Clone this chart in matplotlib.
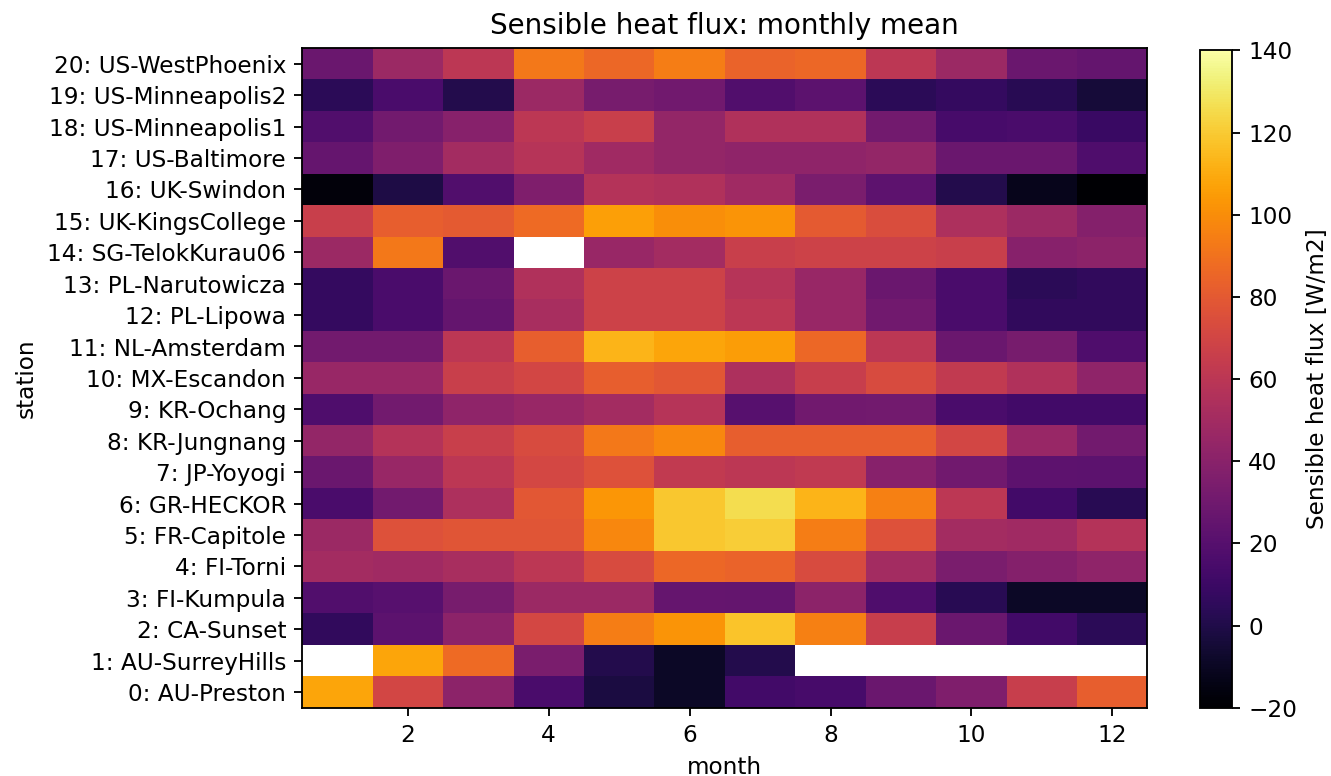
import matplotlib
matplotlib.use("Agg")
import matplotlib.pyplot as plt
import numpy as np

# estaciones (de 0 abajo a 20 arriba) y meses
estaciones = ["AU-Preston", "AU-SurreyHills", "CA-Sunset", "FI-Kumpula", "FI-Torni",
              "FR-Capitole", "GR-HECKOR", "JP-Yoyogi", "KR-Jungnang", "KR-Ochang",
              "MX-Escandon", "NL-Amsterdam", "PL-Lipowa", "PL-Narutowicza",
              "SG-TelokKurau06", "UK-KingsCollege", "UK-Swindon", "US-Baltimore",
              "US-Minneapolis1", "US-Minneapolis2", "US-WestPhoenix"]
meses = np.arange(1, 13)
nan = np.nan

# flujo de calor sensible medio mensual [W/m2], una fila por estacion
h_0 = [108, 70, 41, 15, -2, -9, 12, 14, 28, 36, 65, 82]
h_1 = [nan, 108, 87, 34, 1, -9, 1, nan, nan, nan, nan, nan]
h_2 = [6, 22, 41, 71, 94, 102, 118, 95, 65, 28, 12, 4]
h_3 = [18, 20, 33, 47, 47, 26, 25, 41, 17, 3, -9, -9]
h_4 = [50, 49, 52, 60, 73, 86, 84, 73, 50, 34, 38, 42]
h_5 = [47, 76, 78, 78, 98, 119, 121, 94, 76, 50, 49, 57]
h_6 = [15, 31, 54, 79, 103, 119, 126, 113, 95, 60, 12, 3]
h_7 = [28, 46, 60, 71, 76, 63, 60, 62, 39, 30, 23, 22]
h_8 = [44, 57, 66, 73, 92, 98, 82, 82, 82, 70, 46, 31]
h_9 = [17, 31, 42, 46, 50, 58, 20, 30, 31, 15, 12, 12]
h_10 = [46, 46, 66, 70, 82, 79, 54, 65, 73, 63, 55, 42]
h_11 = [31, 31, 60, 82, 113, 108, 105, 86, 60, 28, 33, 17]
h_12 = [7, 15, 25, 52, 68, 68, 60, 46, 30, 15, 6, 6]
h_13 = [7, 15, 28, 55, 68, 68, 58, 46, 28, 15, 4, 6]
h_14 = [47, 92, 18, nan, 46, 50, 66, 68, 68, 66, 39, 41]
h_15 = [66, 82, 80, 87, 106, 100, 102, 80, 74, 54, 47, 38]
h_16 = [-17, -1, 18, 36, 57, 55, 49, 34, 23, 1, -12, -20]
h_17 = [26, 36, 50, 58, 49, 44, 42, 42, 44, 28, 28, 17]
h_18 = [18, 31, 39, 60, 66, 44, 55, 55, 31, 14, 15, 9]
h_19 = [4, 15, 1, 47, 33, 30, 18, 22, 4, 7, 3, -4]
h_20 = [28, 47, 60, 92, 86, 94, 84, 86, 60, 47, 28, 25]

datos = np.array([h_0, h_1, h_2, h_3, h_4, h_5, h_6, h_7, h_8, h_9, h_10,
                  h_11, h_12, h_13, h_14, h_15, h_16, h_17, h_18, h_19, h_20], dtype=float)
etiquetas = [f"{i}: {n}" for i, n in enumerate(estaciones)]

fig = plt.figure(figsize=(8, 4.664), dpi=166.4)
ax = fig.add_axes([0.227, 0.088, 0.635, 0.850])
cax = fig.add_axes([0.9016, 0.088, 0.024, 0.847])

x_bordes = np.arange(0.5, 13.5, 1)
y_bordes = np.arange(-0.5, 21.5, 1)
malla = ax.pcolormesh(x_bordes, y_bordes, np.ma.masked_invalid(datos),
                      cmap="inferno", vmin=-20, vmax=140)

ax.set_xticks([2, 4, 6, 8, 10, 12])
ax.set_yticks(np.arange(len(estaciones)))
ax.set_yticklabels(etiquetas)
ax.set_xlabel("month")
ax.set_ylabel("station")
ax.set_title("Sensible heat flux: monthly mean")

cb = fig.colorbar(malla, cax=cax)
cb.set_label("Sensible heat flux [W/m2]")

fig.savefig("out.png", dpi=166.4)
